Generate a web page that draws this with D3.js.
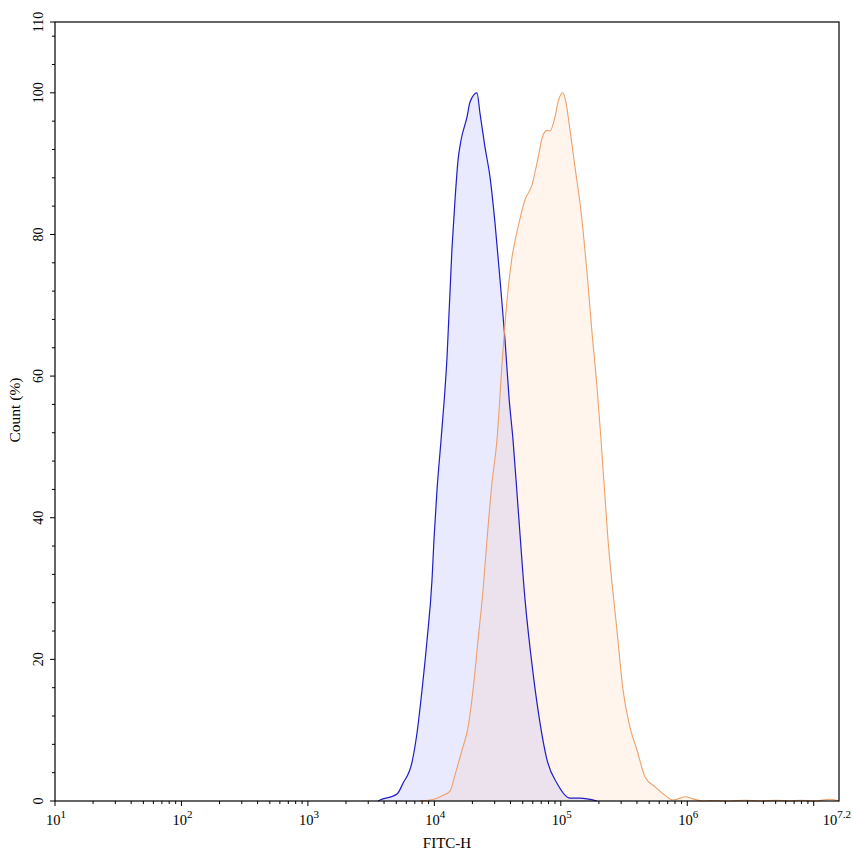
<!DOCTYPE html>
<html><head><meta charset="utf-8">
<script src="https://cdn.jsdelivr.net/npm/d3@7"></script>
<style>body{margin:0;background:#fff}svg{display:block}text{font-family:"Liberation Serif","Times New Roman",serif;fill:#000}</style>
</head><body>
<svg id="c" width="853" height="856"></svg>
<script>
// Control (blue) histogram: FITC-H intensity vs count (%)
const blueX = [3580,3715,5070,5650,6660,7290,7990,8750,9580,9930,10490,11300,12600,13800,14570,15390,16250,18130,19140,21740,22960,25160,27560,30180,33050,36210,38940,41880,45880,52150,60290,68520,77810,93300,118300,141900,193300];
const blueY = [0,0.14,1.0,2.5,5.5,9.6,15.7,22.7,31.2,36.9,43.9,51.0,62.7,78.2,84.9,90.5,93.3,96.6,98.7,100,97.1,92.3,88.1,81.6,73.6,65.1,57.0,51.0,41.5,28.4,18.1,11.0,5.8,2.5,0.4,0.4,0];
// Sample (orange) histogram
const orangeX = [7710,10490,11690,13300,14570,16550,18470,20230,22150,24270,26080,28560,31280,34260,37550,41130,45880,52150,59180,64860,72300,77810,82180,89980,95100,104000,109900,118300,129500,141900,150000,161200,176600,193300,208000,236200,278100,310400,352600,400600,463400,555600,666700,771400,845100,960400,1110000,1333000,1510000,2180000,2860000,3760000,5130000,6500000,7800000,10200000,13500000,15850000];
const orangeY = [0,0.4,0.8,1.4,3.7,7.2,10.4,15.7,22.7,29.8,36.9,44.9,51.0,61.6,70.7,76.8,81.0,84.9,87.0,90.1,94.0,94.7,94.6,96.6,98.7,100,98.6,94.7,89.5,84.4,80.6,74.6,66.1,58.5,51.0,36.9,24.1,15.7,10.4,7.2,3.4,2.0,0.8,0.14,0.3,0.6,0.3,0,0.05,0,0.1,0,0.1,0,0.1,0,0.25,0];
const xExponents = [1,2,3,4,5,6,7.2];
const yLabels = [0,20,40,60,80,100,110];

const svg = d3.select("#c");
const L=55,R=839,T=22,B=801;
const x = d3.scaleLog().domain([10, Math.pow(10,7.2)]).range([L,R]);
const y = d3.scaleLinear().domain([0,110]).range([B,T]);

const area = d3.area().x(d=>x(d[0])).y0(B).y1(d=>y(d[1])).curve(d3.curveMonotoneX);
const line = d3.line().x(d=>x(d[0])).y(d=>y(d[1])).curve(d3.curveMonotoneX);
const blue = blueX.map((v,i)=>[v,blueY[i]]);
const orange = orangeX.map((v,i)=>[v,orangeY[i]]);

svg.append("path").attr("d",area(blue)).attr("fill","rgba(30,30,255,0.095)");
svg.append("path").attr("d",area(orange)).attr("fill","rgba(255,160,80,0.1)");
svg.append("path").attr("d",line(blue)).attr("fill","none").attr("stroke","#1c1cc8").attr("stroke-width",1.2);
svg.append("path").attr("d",line(orange)).attr("fill","none").attr("stroke","#eda06a").attr("stroke-width",1.1);

// frame
svg.append("rect").attr("x",L).attr("y",T).attr("width",R-L).attr("height",B-T).attr("fill","none").attr("stroke","#000").attr("stroke-width",1.2);

// x ticks
const g = svg.append("g");
for(let d=1; d<=7; d++){
  for(let m=1;m<=9;m++){
    const v = m*Math.pow(10,d);
    if(v>Math.pow(10,7.2)) break;
    const px=x(v);
    g.append("line").attr("x1",px).attr("x2",px).attr("y1",B).attr("y2",B+(m===1?5:3)).attr("stroke","#000").attr("stroke-width",1);
  }
}
xExponents.forEach(e=>{
  const last = e===7.2;
  const t = g.append("text").attr("x",last?851:x(Math.pow(10,e))+1).attr("y",825).attr("text-anchor",last?"end":"middle").attr("font-size",14.5);
  t.append("tspan").text("10");
  t.append("tspan").attr("dy",-7).attr("font-size",11).text(String(e));
});
// y ticks
for(let v=0; v<=110; v+=2){
  if(v%4!==0 && v!==110) continue;
  const major = v%20===0 || v===110;
  g.append("line").attr("x1",L).attr("x2",L-(major?5:3)).attr("y1",y(v)).attr("y2",y(v)).attr("stroke","#000").attr("stroke-width",1);
}
yLabels.forEach(v=>{
  g.append("text").attr("transform",`translate(42.5,${y(v)}) rotate(-90)`).attr("text-anchor","middle").attr("font-size",14).text(v);
});
svg.append("text").attr("transform",`translate(20,410) rotate(-90)`).attr("text-anchor","middle").attr("font-size",15.5).text("Count (%)");
svg.append("text").attr("x",447).attr("y",848).attr("text-anchor","middle").attr("font-size",15).text("FITC-H");
</script>
</body></html>
